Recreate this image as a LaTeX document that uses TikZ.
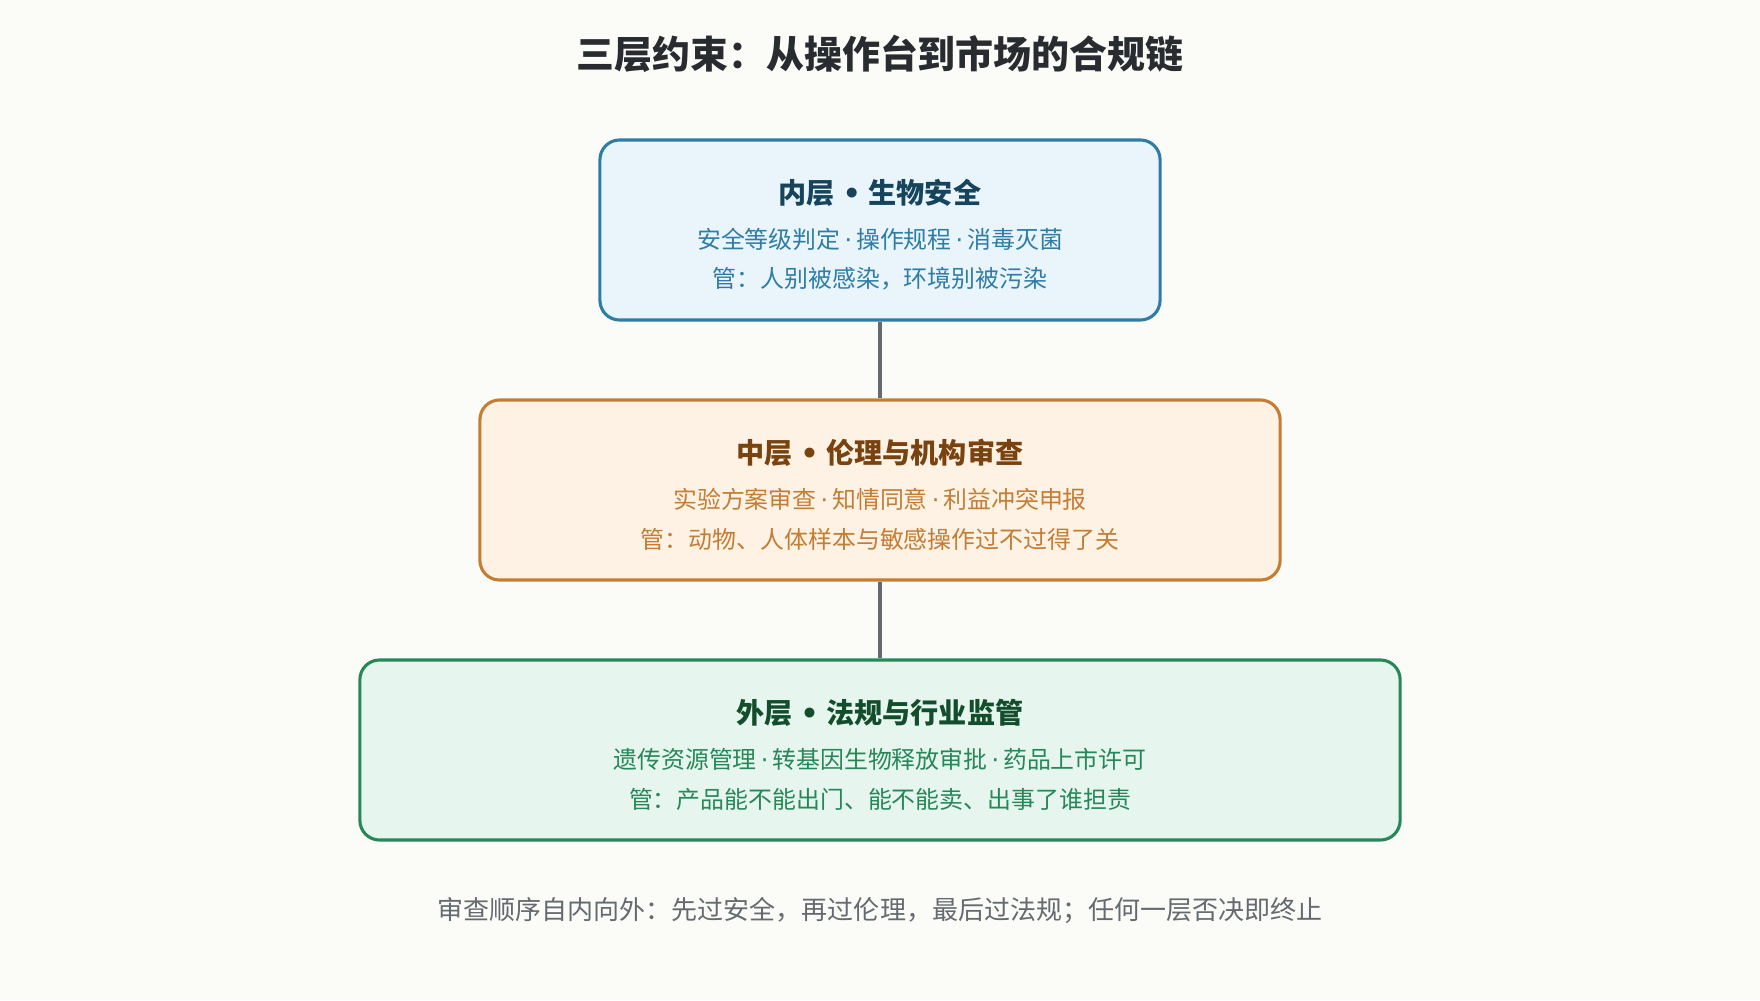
\documentclass[tikz,border=0pt]{standalone}
\usepackage{fontspec}
\setmainfont{Noto Sans CJK SC}
\newfontfamily\dotfont{DejaVu Sans}
\usepackage{xcolor}
\usetikzlibrary{positioning}
\definecolor{BGPaper}{RGB}{251,251,247}
\definecolor{InnerLine}{RGB}{46,125,166}
\definecolor{InnerFill}{RGB}{234,244,251}
\definecolor{InnerHead}{RGB}{22,68,92}
\definecolor{MidLine}{RGB}{196,125,52}
\definecolor{MidFill}{RGB}{253,242,228}
\definecolor{MidHead}{RGB}{122,66,14}
\definecolor{OutLine}{RGB}{38,135,88}
\definecolor{OutFill}{RGB}{230,245,237}
\definecolor{OutHead}{RGB}{18,78,44}
\definecolor{LinkGray}{RGB}{100,106,112}
\definecolor{TitleInk}{RGB}{40,44,48}

\newcommand\sepdot{\,{\dotfont ·}\,}
\newcommand\bigdot{\;{\dotfont •}\;}

\tikzset{
  layer/.style={draw, line width=2.2pt, rounded corners=14pt, minimum height=4.5cm, align=center},
  head/.style={font=\fontsize{20}{24}\selectfont\bfseries},
  body/.style={font=\fontsize{17}{20}\selectfont},
  link/.style={draw=LinkGray, line width=2.5pt}
}

\begin{document}
\begin{tikzpicture}[x=0.025cm, y=-0.025cm]
        % Canvas
        \fill[BGPaper] (0,0) rectangle (1760,1000);
        \useasboundingbox (0,0) rectangle (1760,1000);

        % Title
        \node[font=\fontsize{27}{32}\selectfont\bfseries, text=TitleInk] (title) at (880,54) {三层约束：从操作台到市场的合规链};

        % Layer boxes
        \node[layer, draw=InnerLine, fill=InnerFill, minimum width=14cm] (inner) at (880,230) {};
        \node[layer, draw=MidLine, fill=MidFill, minimum width=20cm] (middle) at (880,490) {};
        \node[layer, draw=OutLine, fill=OutFill, minimum width=26cm] (outer) at (880,750) {};

        % Inner texts
        \node[head, text=InnerHead] (innerhead) at (880,193) {内层\bigdot 生物安全};
        \node[body, text=InnerLine] (innerwhat) at (880,239) {安全等级判定\sepdot 操作规程\sepdot 消毒灭菌};
        \node[body, text=InnerLine] (innerwhy) at (880,279) {管：人别被感染，环境别被污染};

        % Middle texts
        \node[head, text=MidHead] (midhead) at (880,453) {中层\bigdot 伦理与机构审查};
        \node[body, text=MidLine] (midwhat) at (880,499) {实验方案审查\sepdot 知情同意\sepdot 利益冲突申报};
        \node[body, text=MidLine] (midwhy) at (880,539) {管：动物、人体样本与敏感操作过不过得了关};

        % Outer texts
        \node[head, text=OutHead] (outhead) at (880,713) {外层\bigdot 法规与行业监管};
        \node[body, text=OutLine] (outwhat) at (880,759) {遗传资源管理\sepdot 转基因生物释放审批\sepdot 药品上市许可};
        \node[body, text=OutLine] (outwhy) at (880,799) {管：产品能不能出门、能不能卖、出事了谁担责};

        % Links
        \draw[link] (inner.south) -- (middle.north);
        \draw[link] (middle.south) -- (outer.north);

        % Footer
        \node[font=\fontsize{18.5}{22}\selectfont, text=LinkGray] (footer) at (880,911) {审查顺序自内向外：先过安全，再过伦理，最后过法规；任何一层否决即终止};
\end{tikzpicture}
\end{document}
